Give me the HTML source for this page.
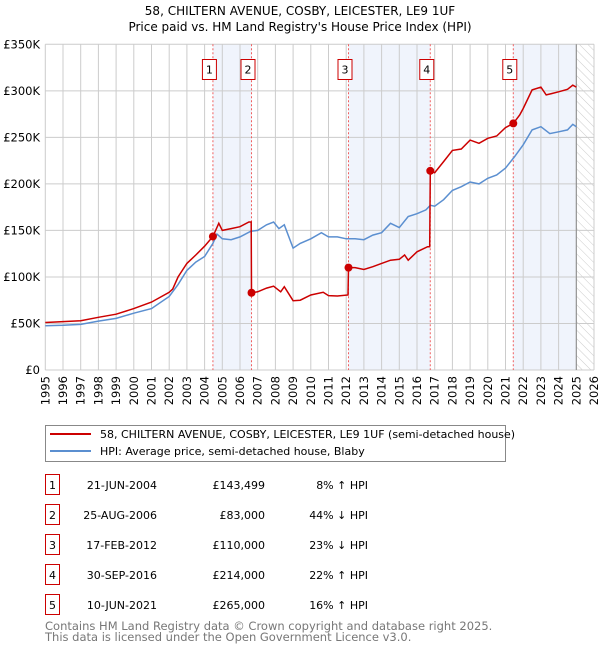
<!DOCTYPE html>
<html><head><meta charset="utf-8"><style>
body{margin:0;background:#fff;font-family:"DejaVu Sans","Liberation Sans",sans-serif;}
svg text{font-family:"DejaVu Sans","Liberation Sans",sans-serif;}
</style></head><body>
<svg id="c" width="600" height="650" xmlns="http://www.w3.org/2000/svg">
<defs><pattern id="hatch" width="6" height="6" patternUnits="userSpaceOnUse" patternTransform="rotate(-45)"><line x1="0" y1="0" x2="0" y2="6" stroke="#ccc" stroke-width="1"/></pattern></defs>
<text x="300" y="15" text-anchor="middle" font-size="12">58, CHILTERN AVENUE, COSBY, LEICESTER, LE9 1UF</text>
<text x="300" y="31" text-anchor="middle" font-size="12">Price paid vs. HM Land Registry's House Price Index (HPI)</text>
<g id="bands"></g><g id="grid"></g><g id="vlines"></g><g id="lines"></g><g id="marks"></g><g id="axes"></g>
<g>
<rect x="45.5" y="425.5" width="460" height="36" fill="#fff" stroke="#888"/>
<line x1="50" y1="434" x2="91" y2="434" stroke="#cc0000" stroke-width="2"/>
<text x="100" y="438" font-size="11">58, CHILTERN AVENUE, COSBY, LEICESTER, LE9 1UF (semi-detached house)</text>
<line x1="50" y1="451" x2="91" y2="451" stroke="#5b8fd0" stroke-width="2"/>
<text x="100" y="455" font-size="11">HPI: Average price, semi-detached house, Blaby</text>
</g>
<g id="table"></g>
<text x="45" y="630" font-size="11.5" fill="#777">Contains HM Land Registry data © Crown copyright and database right 2025.</text>
<text x="45" y="641" font-size="11.5" fill="#777">This data is licensed under the Open Government Licence v3.0.</text>
</svg>
<script>
const hpiYears=[1995,1996,1997,1998,1999,2000,2001,2002,2002.5,2003,2003.5,2004,2004.47,2004.7,2005,2005.5,2006,2006.6,2007,2007.5,2007.9,2008.2,2008.5,2009,2009.4,2010,2010.6,2011,2011.5,2012,2012.5,2013,2013.5,2014,2014.5,2015,2015.5,2016,2016.5,2016.75,2017,2017.5,2018,2018.5,2019,2019.5,2020,2020.5,2021,2021.5,2022,2022.5,2023,2023.5,2024,2024.5,2024.8,2025];
const hpiValues=[47.6,48,49,52.5,55.5,61,66,79,92,107,116,122,136,146,141,140,143,149,150,156,159,152,156,131,136,141,147.5,143,143,141,141,140,145,147.5,157.6,153,165,168,172,177,176,183,193,197,202,200,206,209.6,217,229,242,258,261.5,254,256,258,264,261.5];
const redYears=[1995,1997,1998,1999,2000,2001,2002,2002.2,2002.5,2003,2003.5,2004,2004.47,2004.8,2005,2005.5,2006,2006.5,2006.63,2006.65,2007,2007.5,2007.9,2008.3,2008.5,2009,2009.4,2010,2010.7,2011,2011.5,2012.1,2012.13,2012.5,2013,2013.5,2014,2014.5,2015,2015.3,2015.5,2016,2016.6,2016.72,2016.75,2017,2017.5,2018,2018.5,2019,2019.5,2020,2020.5,2021,2021.44,2021.8,2022,2022.5,2023,2023.3,2023.6,2024,2024.5,2024.8,2025];
const redValues=[51,53,56.6,60,66,73,83.5,87,100,114.6,123.6,133,143.5,157.6,150,152,154,159,159,83,84,88,90,84,89.5,74.5,75,80.6,83.5,80,79.5,80.6,110,110,108,111,114.6,118,119,123.6,118,127,132.5,132.5,214,212,224,236,237.5,247,243.6,249,251.5,260.5,265,274,281,301,304,295.6,297,299,301.6,306,304];
const saleYears=[2004.47,2006.65,2012.13,2016.75,2021.44];
const salePrices=[143.5,83,110,214,265];
const saleDates=["21-JUN-2004","25-AUG-2006","17-FEB-2012","30-SEP-2016","10-JUN-2021"];
const salePriceLabels=["£143,499","£83,000","£110,000","£214,000","£265,000"];
const salePct=["8% ↑ HPI","44% ↓ HPI","23% ↓ HPI","22% ↑ HPI","16% ↑ HPI"];
const yTicks=[0,50,100,150,200,250,300,350];
const yTickLabels=["£0","£50K","£100K","£150K","£200K","£250K","£300K","£350K"];
const NS="http://www.w3.org/2000/svg";
const X0=45.3,X1=594,Y0=370,Y1=44.3;
const xs=y=>X0+(y-1995)/(2026-1995)*(X1-X0);
const ys=v=>Y0-v/350*(Y0-Y1);
function mk(p,t,a){const e=document.createElementNS(NS,t);for(const k in a)e.setAttribute(k,a[k]);document.getElementById(p).appendChild(e);return e;}
[[0,1],[2,3]].forEach(([a,b])=>{const r=mk('bands','rect',{x:xs(saleYears[a]),y:Y1,width:xs(saleYears[b])-xs(saleYears[a]),height:Y0-Y1,fill:'#f0f4fc'});

});
{const r=mk('bands','rect',{x:xs(saleYears[4]),y:Y1,width:xs(2025)-xs(saleYears[4]),height:Y0-Y1,fill:'#f0f4fc'});

}
{const r=mk('bands','rect',{x:xs(2025),y:Y1,width:X1-xs(2025),height:Y0-Y1,fill:'url(#hatch)'});

}
for(let y=1995;y<=2026;y++){const l=mk('grid','line',{x1:xs(y),x2:xs(y),y1:Y1,y2:Y0,stroke:'#ccc','stroke-width':1});


const t=mk('axes','text',{x:0,y:0,'font-size':11.5,'text-anchor':'end',transform:`translate(${xs(y)+4},${Y0+6}) rotate(-90)`});t.textContent=y;

}
yTicks.forEach((v,i)=>{const l=mk('grid','line',{x1:X0,x2:X1,y1:ys(v),y2:ys(v),stroke:'#ccc','stroke-width':1});


const t=mk('axes','text',{x:40,y:ys(v)+4,'font-size':11.5,'text-anchor':'end'});t.textContent=yTickLabels[i];

});
{const l=mk('grid','line',{x1:xs(2025),x2:xs(2025),y1:Y1,y2:Y0,stroke:'#888','stroke-width':1});

}
const pts=(xa,va)=>xa.map((x,i)=>xs(x).toFixed(1)+','+ys(va[i]).toFixed(1)).join(' ');
{const p=mk('lines','polyline',{points:pts(hpiYears,hpiValues),fill:'none',stroke:'#5b8fd0','stroke-width':1.5});

}
{const p=mk('lines','polyline',{points:pts(redYears,redValues),fill:'none',stroke:'#cc0000','stroke-width':1.5});

}
saleYears.forEach((y,i)=>{const x=xs(y);
const l=mk('vlines','line',{x1:x,x2:x,y1:Y1,y2:Y0,stroke:'#f06060','stroke-width':1,'stroke-dasharray':'2,2'});


const b=mk('marks','rect',{x:x-10.5,y:59.5,width:14,height:20,fill:'#fff',stroke:'#cc0000'});


const t=mk('marks','text',{x:x-3.5,y:73.5,'font-size':11,'text-anchor':'middle'});t.textContent=i+1;


const c=mk('marks','circle',{cx:x,cy:ys(salePrices[i]),r:4,fill:'#cc0000'});


const ry=485+i*30;
const r=mk('table','rect',{x:45.5,y:ry-10.5,width:14,height:20,fill:'#fff',stroke:'#cc0000'});


const n=mk('table','text',{x:52.5,y:ry+4,'font-size':11,'text-anchor':'middle'});n.textContent=i+1;


[[157,saleDates[i],'table-date'],[265,salePriceLabels[i],'table-price'],[368,salePct[i],'table-hpi-change']].forEach(([xx,s,nm])=>{
const tt=mk('table','text',{x:xx,y:ry+4,'font-size':11,'text-anchor':'end'});tt.textContent=s;

});
});
</script>
</body></html>
